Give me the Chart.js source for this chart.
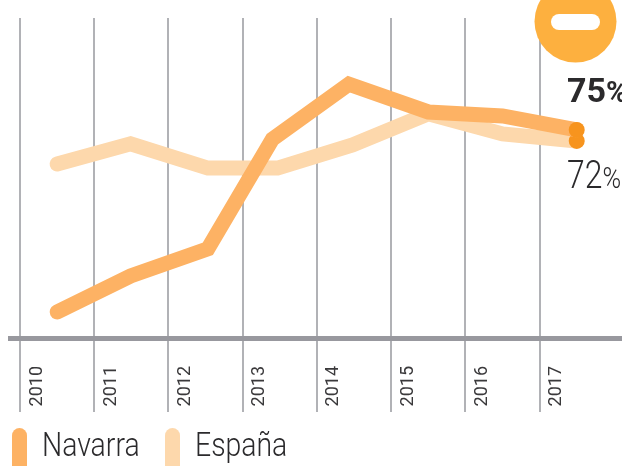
<!DOCTYPE html>
<html>
<head>
<meta charset="utf-8">
<script src="https://cdn.jsdelivr.net/npm/chart.js@4"></script>
<style>
  html, body { margin: 0; padding: 0; background: #fff; overflow: hidden; }
  #wrap { position: relative; width: 622px; height: 466px; overflow: hidden; color: #2b2a2c; font-family: "Liberation Sans Narrow", Roboto, sans-serif; }
  canvas { position: absolute; left: 0; top: 0; }
  .val { position: absolute; left: 567px; line-height: 1; white-space: nowrap; }
  .swatch { position: absolute; top: 428px; width: 15px; height: 60px; border-radius: 8px; }
  .name { position: absolute; top: 427px; font-size: 33px; line-height: 36px; font-family: Roboto, sans-serif; font-weight: 300; transform-origin: left top; transform: scaleX(.86); }
</style>
</head>
<body>
<div id="wrap">
  <canvas id="chart" width="622" height="466"></canvas>
  <div class="val" style="top:73px;font-size:34px;font-weight:700">75<span style="font-size:29px">%</span></div>
  <div class="val" style="top:156px;font-size:38px;font-family:Roboto;font-weight:300;transform:scaleX(.84);transform-origin:left top">72<span style="font-size:30px">%</span></div>
  <div class="swatch" style="left:12px;background:#fdb264"></div>
  <div class="name" style="left:42px">Navarra</div>
  <div class="swatch" style="left:165px;background:#fdd8ac"></div>
  <div class="name" style="left:195px">España</div>
</div>
<script>
const years = [2010, 2011, 2012, 2013, 2014, 2015, 2016, 2017];
// x positions of the points (they sit between the year lines)
const navarraX = [2010.5, 2011.49, 2012.53, 2013.4, 2014.43, 2015.5, 2016.5, 2017.5];
const espanaX = [2010.5, 2011.49, 2012.53, 2013.47, 2014.48, 2015.5, 2016.5, 2017.5];
const navarra = [25.4, 35.2, 42.6, 72.5, 87.5, 79.9, 78.8, 75];
const espana = [65.7, 71.2, 64.6, 64.6, 70.9, 79.4, 73.9, 72];

const toPoints = (xs, ys) => ys.map((y, i) => ({ x: xs[i], y }));

// orange badge with the minus sign, top right
const badge = {
    id: 'badge',
    afterDraw(chart) {
        const ctx = chart.ctx;
        ctx.save();
        ctx.fillStyle = '#fdb03f';
        ctx.beginPath();
        ctx.arc(575.5, 21.5, 41, 0, Math.PI * 2);
        ctx.fill();
        ctx.fillStyle = '#fff';
        ctx.beginPath();
        ctx.roundRect(551, 14, 49, 16, 8);
        ctx.fill();
        ctx.restore();
    }
};

const endDot = (ctx) => ctx.dataIndex === years.length - 1 ? 8 : 0;

new Chart(document.getElementById('chart'), {
    type: 'line',
    data: {
        datasets: [
            {
                label: 'España',
                data: toPoints(espanaX, espana),
                borderColor: '#fdd8ac',
                backgroundColor: '#f7941e',
                borderWidth: 15,
                borderCapStyle: 'round',
                borderJoinStyle: 'miter',
                tension: 0,
                pointRadius: endDot,
                pointBorderWidth: 0,
                order: 2
            },
            {
                label: 'Navarra',
                data: toPoints(navarraX, navarra),
                borderColor: '#fdb264',
                backgroundColor: '#f7941e',
                borderWidth: 15,
                borderCapStyle: 'round',
                borderJoinStyle: 'miter',
                tension: 0,
                pointRadius: endDot,
                pointBorderWidth: 0,
                order: 1
            }
        ]
    },
    options: {
        responsive: false,
        animation: false,
        layout: { autoPadding: false, padding: { top: 18, left: 10, right: 0, bottom: 0 } },
        plugins: { legend: { display: false }, tooltip: { enabled: false } },
        scales: {
            x: {
                type: 'linear',
                min: 2009.865,
                max: 2018.11,
                afterBuildTicks(scale) {
                    scale.ticks = years.map(value => ({ value }));
                },
                afterFit(scale) {
                    scale.height = 128;
                },
                border: { color: '#98989e', width: 5 },
                grid: { color: '#b1b2b6', lineWidth: 2, tickLength: 74 },
                ticks: {
                    minRotation: 90,
                    maxRotation: 90,
                    padding: -46,
                    labelOffset: 17,
                    color: '#3a393b',
                    font: { family: '"Liberation Sans Narrow", Roboto, sans-serif', size: 18 },
                    callback: value => String(value)
                }
            },
            y: {
                display: false,
                min: 18.3,
                max: 105.5
            }
        }
    },
    plugins: [badge]
});
</script>
</body>
</html>
